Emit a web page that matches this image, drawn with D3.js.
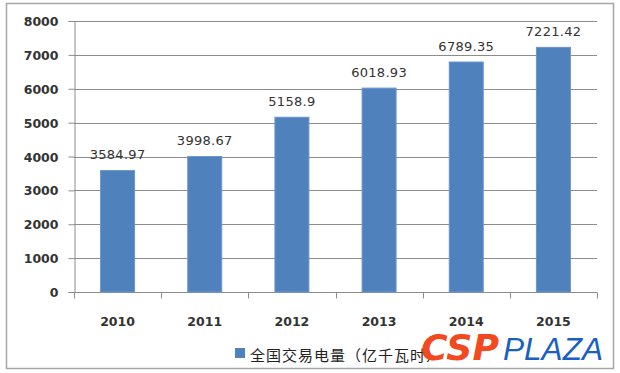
<!DOCTYPE html>
<html><head><meta charset="utf-8">
<script src="https://cdn.jsdelivr.net/npm/d3@7"></script>
<style>body{margin:0;background:#fff}svg{display:block}</style>
</head><body><svg id="c" width="620" height="373"></svg>
<script>
const categories = ["2010","2011","2012","2013","2014","2015"];
const values = [3584.97, 3998.67, 5158.9, 6018.93, 6789.35, 7221.42];
const valueLabels = ["3584.97","3998.67","5158.9","6018.93","6789.35","7221.42"];
const yTicks = [0,1000,2000,3000,4000,5000,6000,7000,8000];
const seriesName = "全国交易电量（亿千瓦时）";

const svg = d3.select("#c");
svg.append("rect").attr("x",6.5).attr("y",3.5).attr("width",607).attr("height",365)
  .attr("fill","#fff").attr("stroke","#a6a6a6").attr("stroke-width",1.5);

const L=74, R=597, T=21, B=292;
const x = d3.scaleBand().domain(categories).range([L,R]).paddingInner(0.61).paddingOuter(0.305);
const xb = d3.scaleBand().domain(categories).range([L,R]);
const y = d3.scaleLinear().domain([0,8000]).range([B,T]);

// gridlines
svg.append("g").selectAll("line").data(yTicks.filter(d=>d>0)).join("line")
  .attr("x1",L).attr("x2",R).attr("y1",d=>Math.round(y(d))+0.5).attr("y2",d=>Math.round(y(d))+0.5)
  .attr("stroke","#8c8c8c").attr("stroke-width",1);

// y axis
const ya = svg.append("g").attr("transform",`translate(${L+0.5},0)`)
  .call(d3.axisLeft(y).tickValues(yTicks).tickSize(6).tickPadding(10).tickFormat(d3.format("d")));
ya.select(".domain").attr("stroke","#8c8c8c");
ya.selectAll(".tick line").attr("stroke","#8c8c8c");
ya.selectAll("text").attr("font-family","'DejaVu Sans', sans-serif").attr("font-weight","bold")
  .attr("font-size","12.5px").attr("fill","#333").attr("dy","0.36em");

// x axis
const xa = svg.append("g").attr("transform",`translate(0,${B+0.5})`);
xa.append("line").attr("x1",L).attr("x2",R).attr("stroke","#8c8c8c");
xa.selectAll("line.t").data(d3.range(categories.length+1)).join("line").attr("class","t")
  .attr("x1",i=>Math.round(L+i*xb.step())+0.5).attr("x2",i=>Math.round(L+i*xb.step())+0.5)
  .attr("y1",0).attr("y2",6).attr("stroke","#8c8c8c");
xa.selectAll("text").data(categories).join("text")
  .attr("x",d=>xb(d)+xb.bandwidth()/2).attr("y",33).attr("text-anchor","middle")
  .attr("font-family","'DejaVu Sans', sans-serif").attr("font-weight","bold")
  .attr("font-size","12.5px").attr("fill","#333").text(d=>d);

// bars
svg.append("g").selectAll("rect").data(values).join("rect")
  .attr("x",(d,i)=>x(categories[i])).attr("width",x.bandwidth())
  .attr("y",d=>y(d)).attr("height",d=>B-y(d))
  .attr("fill","#4f81bd").attr("stroke","#6a96cc").attr("stroke-width",1);

// value labels
svg.append("g").selectAll("text").data(values).join("text")
  .attr("x",(d,i)=>x(categories[i])+x.bandwidth()/2).attr("y",d=>y(d)-11.5)
  .attr("text-anchor","middle").attr("font-family","'DejaVu Sans', sans-serif")
  .attr("font-size","13px").attr("letter-spacing","0.3px").attr("fill","#333")
  .text((d,i)=>valueLabels[i]);

// legend
svg.append("rect").attr("x",235).attr("y",348).attr("width",10).attr("height",10).attr("fill","#4f81bd");
svg.append("text").attr("x",250).attr("y",361).attr("font-family","'Noto Sans CJK SC', sans-serif")
  .attr("font-size","15px").attr("letter-spacing","1px").attr("fill","#222").text(seriesName);

// watermark
svg.append("text").attr("x",421).attr("y",360).attr("font-family","'DejaVu Sans', sans-serif")
  .attr("font-weight","bold").attr("font-style","italic").attr("font-size","36px")
  .attr("fill","#f24a1e").attr("textLength",78).attr("lengthAdjust","spacingAndGlyphs").text("CSP");
svg.append("text").attr("x",503).attr("y",360).attr("font-family","'Liberation Sans', sans-serif")
  .attr("font-style","italic").attr("font-size","31px")
  .attr("fill","#1a5fc4").attr("textLength",100).attr("lengthAdjust","spacingAndGlyphs").text("PLAZA");
</script></body></html>
